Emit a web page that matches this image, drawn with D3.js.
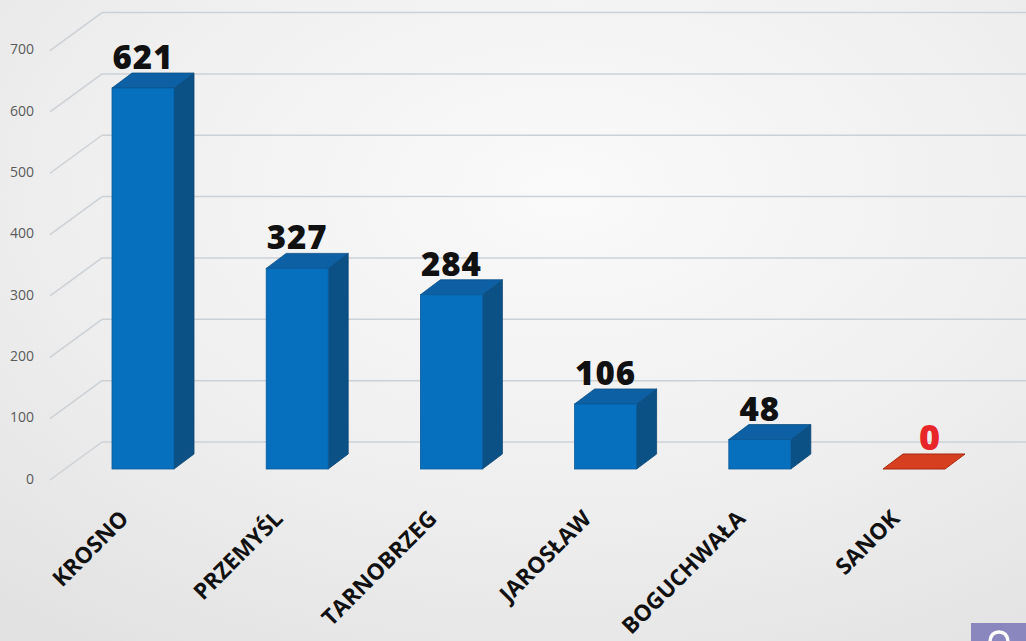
<!DOCTYPE html>
<html>
<head>
<meta charset="utf-8">
<script src="https://cdn.jsdelivr.net/npm/d3@7"></script>
<style>
html,body{margin:0;padding:0;overflow:hidden;background:#f0f0f0;}
svg{display:block;}
</style>
</head>
<body>
<svg id="chart" width="1026" height="641"></svg>
<script>
const categories = ["KROSNO", "PRZEMYŚL", "TARNOBRZEG", "JAROSŁAW", "BOGUCHWAŁA", "SANOK"];
const values = [621, 327, 284, 106, 48, 0];
const tickValues = [0, 100, 200, 300, 400, 500, 600, 700];

const W = 1026, H = 641;
const svg = d3.select("#chart");

// background
const defs = svg.append("defs");
const rg = defs.append("radialGradient").attr("id", "bg").attr("cx", "55%").attr("cy", "30%").attr("r", "85%");
rg.append("stop").attr("offset", "0%").attr("stop-color", "#fafafa");
rg.append("stop").attr("offset", "55%").attr("stop-color", "#efefef");
rg.append("stop").attr("offset", "100%").attr("stop-color", "#e2e2e2");
svg.append("rect").attr("width", W).attr("height", H).attr("fill", "url(#bg)");

// scales
const yFront = d3.scaleLinear().domain([0, 700]).range([469, 469 - 700 * 0.6135]);
const yBack = d3.scaleLinear().domain([0, 700]).range([442, 442 - 700 * 0.6135]);
const x = d3.scalePoint().domain(categories).range([143, 914]);
const barW = 62, dx = 20, dy = -15;

// gridlines (back wall + diagonal side lines)
const grid = svg.append("g");
tickValues.forEach(v => {
  grid.append("line")
    .attr("x1", 102).attr("x2", W)
    .attr("y1", yBack(v)).attr("y2", yBack(v))
    .attr("stroke", "#ccd1d6").attr("stroke-width", 1.5);
  grid.append("line")
    .attr("x1", 50).attr("y1", yFront(v) + 11)
    .attr("x2", 102).attr("y2", yBack(v))
    .attr("stroke", "#ccd1d6").attr("stroke-width", 1.5);
});

// y tick labels
svg.append("g").selectAll("text").data(tickValues).join("text")
  .attr("x", 34).attr("y", d => yFront(d) + 11)
  .attr("text-anchor", "end").attr("dominant-baseline", "middle")
  .attr("font-family", "Open Sans, sans-serif").attr("font-size", 14)
  .attr("fill", "#5a5a5a")
  .text(d => d);

// bars
const data = categories.map((c, i) => ({ c, v: values[i] }));
const bars = svg.append("g").selectAll("g").data(data).join("g");

bars.each(function (d) {
  const g = d3.select(this);
  const x0 = x(d.c) - barW / 2, x1 = x0 + barW;
  const yt = yFront(d.v), yb = yFront(0);
  if (d.v === 0) {
    g.append("polygon")
      .attr("points", [[x0, yt], [x0 + dx, yt + dy], [x1 + dx, yt + dy], [x1, yt]].join(" "))
      .attr("fill", "#d63f1f").attr("stroke", "#a8270f").attr("stroke-width", 1);
    return;
  }
  g.append("polygon")
    .attr("points", [[x1, yt], [x1 + dx, yt + dy], [x1 + dx, yb + dy], [x1, yb]].join(" "))
    .attr("fill", "#0b5186").attr("stroke", "#0a4574").attr("stroke-width", 0.8);
  g.append("polygon")
    .attr("points", [[x0, yt], [x0 + dx, yt + dy], [x1 + dx, yt + dy], [x1, yt]].join(" "))
    .attr("fill", "#0d60a3").attr("stroke", "#0a4f86").attr("stroke-width", 0.8);
  g.append("rect")
    .attr("x", x0).attr("y", yt).attr("width", barW).attr("height", yb - yt)
    .attr("fill", "#0670bf").attr("stroke", "#0a5a9a").attr("stroke-width", 0.8);
});

// value labels
svg.append("g").selectAll("text").data(data).join("text")
  .attr("x", d => x(d.c) + (d.v === 0 ? dx * 0.8 : 0))
  .attr("y", d => yFront(d.v) - 19)
  .attr("text-anchor", "middle")
  .attr("font-family", "Open Sans, sans-serif").attr("font-weight", 800)
  .attr("font-size", d => d.v === 0 ? 36 : 33).attr("letter-spacing", 1)
  .attr("fill", d => d.v === 0 ? "#e8262a" : "#111")
  .text(d => d.v);

// category labels
svg.append("g").selectAll("text").data(categories).join("text")
  .attr("transform", d => `translate(${x(d) - 13},520) rotate(-45)`)
  .attr("text-anchor", "end")
  .attr("font-family", "Open Sans, sans-serif").attr("font-weight", 700)
  .attr("font-size", 22.5).attr("fill", "#111")
  .text(d => d);

// cropped page-number box in the corner
svg.append("rect").attr("x", 971).attr("y", 623).attr("width", 60).attr("height", 20).attr("fill", "#8a87bf");
svg.append("path")
  .attr("d", "M990,641 Q991,632 999,632 Q1007,632 1008,641")
  .attr("fill", "none").attr("stroke", "#fff").attr("stroke-width", 3.5);
</script>
</body>
</html>
